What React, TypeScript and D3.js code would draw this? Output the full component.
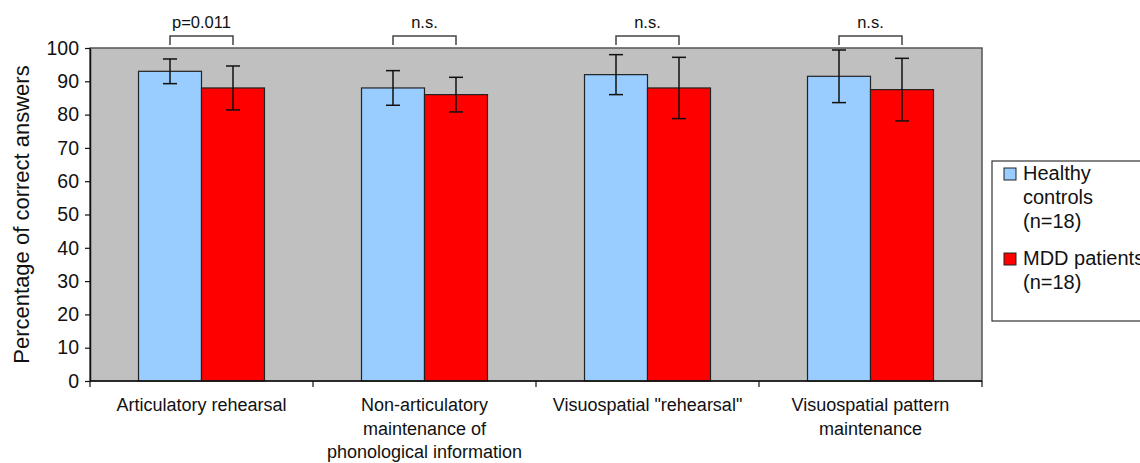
import React, { useEffect, useRef } from "react";
import * as d3 from "d3";

// chart data
const categories = [
  ["Articulatory rehearsal"],
  ["Non-articulatory", "maintenance of", "phonological information"],
  ['Visuospatial "rehearsal"'],
  ["Visuospatial pattern", "maintenance"],
];
const seriesNames = ["Healthy controls (n=18)", "MDD patients (n=18)"];
const healthyMeans = [93, 88, 92, 91.5];
const healthyErr = [3.7, 5.2, 6, 7.9];
const mddMeans = [88, 86, 88, 87.5];
const mddErr = [6.6, 5.2, 9.2, 9.4];
const sigLabels = ["p=0.011", "n.s.", "n.s.", "n.s."];
const yTicks = [0, 10, 20, 30, 40, 50, 60, 70, 80, 90, 100];

const colors = ["#99ccff", "#ff0000"];
const FONT = "'Liberation Sans', Arial, sans-serif";

function App() {
  const ref = useRef<SVGSVGElement>(null);

  useEffect(() => {
    const width = 1140;
    const height = 463;
    const svg = d3.select(ref.current);
    svg.selectAll("*").remove();

    const left = 90;
    const right = 982;
    const top = 48;
    const bottom = 381;

    // scales
    const x0 = d3
      .scaleBand()
      .domain(categories.map((c, i) => String(i)))
      .range([left, right])
      .padding(0);
    const x1 = d3
      .scaleBand()
      .domain(["0", "1"])
      .range([0, x0.bandwidth()])
      .paddingInner(0)
      .paddingOuter(0.77);
    const y = d3.scaleLinear().domain([0, 100]).range([bottom, top]);

    // plot background
    svg
      .append("rect")
      .attr("x", left)
      .attr("y", top)
      .attr("width", right - left)
      .attr("height", bottom - top)
      .attr("fill", "#c0c0c0")
      .attr("stroke", "#555")
      .attr("stroke-width", 1.5);

    const series = [
      { means: healthyMeans, err: healthyErr },
      { means: mddMeans, err: mddErr },
    ];

    // bars
    series.forEach((s, si) => {
      const g = svg.append("g");
      g.selectAll("rect")
        .data(s.means)
        .join("rect")
        .attr("x", (d, i) => x0(String(i))! + x1(String(si))!)
        .attr("y", (d) => y(d))
        .attr("width", x1.bandwidth())
        .attr("height", (d) => y(0) - y(d))
        .attr("fill", colors[si])
        .attr("stroke", "#222")
        .attr("stroke-width", 1.2);
    });

    // error bars
    series.forEach((s, si) => {
      const g = svg.append("g").attr("stroke", "#111").attr("stroke-width", 1.5);
      s.means.forEach((m, i) => {
        const cx = x0(String(i))! + x1(String(si))! + x1.bandwidth() / 2;
        const y1 = y(m + s.err[i]);
        const y2 = y(m - s.err[i]);
        g.append("line").attr("x1", cx).attr("x2", cx).attr("y1", y1).attr("y2", y2);
        g.append("line").attr("x1", cx - 7).attr("x2", cx + 7).attr("y1", y1).attr("y2", y1);
        g.append("line").attr("x1", cx - 7).attr("x2", cx + 7).attr("y1", y2).attr("y2", y2);
      });
    });

    // significance brackets
    sigLabels.forEach((lab, i) => {
      const xa = x0(String(i))! + x1("0")! + x1.bandwidth() / 2;
      const xb = x0(String(i))! + x1("1")! + x1.bandwidth() / 2;
      svg
        .append("path")
        .attr("d", `M${xa},${top - 3}V${top - 12}H${xb}V${top - 3}`)
        .attr("fill", "none")
        .attr("stroke", "#444")
        .attr("stroke-width", 1.5);
      svg
        .append("text")
        .attr("x", (xa + xb) / 2)
        .attr("y", top - 20)
        .attr("text-anchor", "middle")
        .attr("font-family", FONT)
        .attr("font-size", 16.5)
        .attr("fill", "#111")
        .text(lab);
    });

    // y axis
    const yAxis = svg
      .append("g")
      .attr("transform", `translate(${left},0)`)
      .call(d3.axisLeft(y).tickValues(yTicks).tickSize(5).tickPadding(6).tickSizeOuter(0));
    yAxis.select(".domain").attr("stroke", "#111").attr("stroke-width", 1.5);
    yAxis.selectAll(".tick line").attr("stroke", "#111").attr("stroke-width", 1.2);
    yAxis
      .selectAll(".tick text")
      .attr("font-family", FONT)
      .attr("font-size", 19.5)
      .attr("fill", "#111");

    // x axis line + category ticks
    svg
      .append("line")
      .attr("x1", left)
      .attr("x2", right)
      .attr("y1", bottom)
      .attr("y2", bottom)
      .attr("stroke", "#111")
      .attr("stroke-width", 1.5);
    const bounds = categories.map((c, i) => x0(String(i))!).concat([right]);
    svg
      .selectAll(".cattick")
      .data(bounds)
      .join("line")
      .attr("x1", (d) => d)
      .attr("x2", (d) => d)
      .attr("y1", bottom)
      .attr("y2", bottom + 6)
      .attr("stroke", "#111")
      .attr("stroke-width", 1.2);

    // category labels
    categories.forEach((lines, i) => {
      const cx = x0(String(i))! + x0.bandwidth() / 2;
      const t = svg
        .append("text")
        .attr("text-anchor", "middle")
        .attr("font-family", FONT)
        .attr("font-size", 18)
        .attr("fill", "#111");
      lines.forEach((ln, li) => {
        t.append("tspan").attr("x", cx).attr("y", 411 + li * 23.5).text(ln);
      });
    });

    // y axis title
    svg
      .append("text")
      .attr("transform", `translate(29,${(top + bottom) / 2}) rotate(-90)`)
      .attr("text-anchor", "middle")
      .attr("font-family", FONT)
      .attr("font-size", 22)
      .attr("fill", "#111")
      .text("Percentage of correct answers");

    // legend
    const lg = svg.append("g");
    lg.append("rect")
      .attr("x", 992)
      .attr("y", 161)
      .attr("width", 170)
      .attr("height", 160)
      .attr("fill", "#fff")
      .attr("stroke", "#333")
      .attr("stroke-width", 1.2);
    const legendLines = [
      ["Healthy", "controls", "(n=18)"],
      ["MDD patients", "(n=18)"],
    ];
    const legendY = [180, 265];
    legendLines.forEach((lines, si) => {
      lg.append("rect")
        .attr("x", 1004)
        .attr("y", legendY[si] - 12)
        .attr("width", 12)
        .attr("height", 12)
        .attr("fill", colors[si])
        .attr("stroke", "#222")
        .attr("stroke-width", 1)
        .append("title")
        .text(seriesNames[si]);
      const t = lg
        .append("text")
        .attr("font-family", FONT)
        .attr("font-size", 20)
        .attr("fill", "#111");
      lines.forEach((ln, li) => {
        t.append("tspan").attr("x", 1023).attr("y", legendY[si] + li * 24).text(ln);
      });
    });

    svg.attr("width", width).attr("height", height);
  }, []);

  return (
    <svg
      ref={ref}
      width={1140}
      height={463}
      style={{ position: "absolute", left: 0, top: 0, background: "#fff" }}
    />
  );
}

export default App;
